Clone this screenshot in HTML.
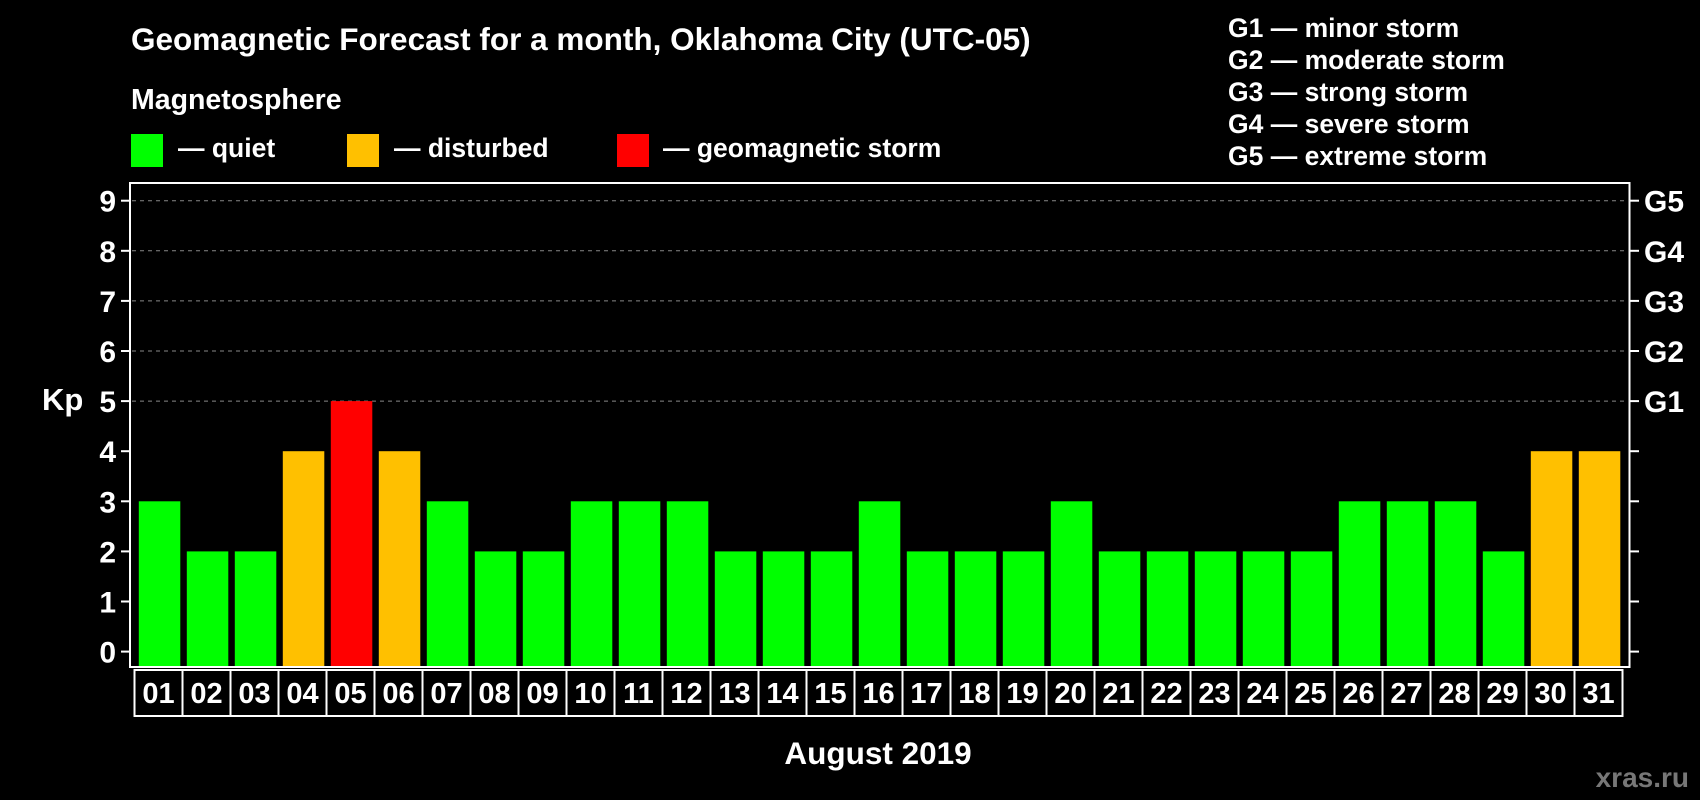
<!DOCTYPE html>
<html><head><meta charset="utf-8"><style>
html,body{margin:0;padding:0;background:#000;}
svg{display:block;font-family:"Liberation Sans",Arial,sans-serif;font-weight:bold;}
</style></head><body>
<svg id="chart" width="1700" height="800" viewBox="0 0 1700 800" xmlns="http://www.w3.org/2000/svg">
<rect width="1700" height="800" fill="#000"/>
<text x="131" y="50" fill="#fff" font-size="31.5">Geomagnetic Forecast for a month, Oklahoma City (UTC-05)</text>
<text x="131" y="109" fill="#fff" font-size="28.5">Magnetosphere</text>
<g><rect x="131" y="134" width="32" height="33" fill="#00ff00"/><text x="178" y="157" fill="#fff" font-size="26.5">— quiet</text></g>
<g><rect x="347" y="134" width="32" height="33" fill="#ffc000"/><text x="394" y="157" fill="#fff" font-size="26.5">— disturbed</text></g>
<g><rect x="617" y="134" width="32" height="33" fill="#ff0000"/><text x="663" y="157" fill="#fff" font-size="26.5">— geomagnetic storm</text></g>
<g fill="#fff" font-size="26.5">
<text x="1228" y="37">G1 — minor storm</text>
<text x="1228" y="69">G2 — moderate storm</text>
<text x="1228" y="101">G3 — strong storm</text>
<text x="1228" y="133">G4 — severe storm</text>
<text x="1228" y="165">G5 — extreme storm</text>
</g>
<text x="42" y="410" fill="#fff" font-size="31">Kp</text>
<text x="878" y="764" fill="#fff" font-size="31.5" text-anchor="middle">August 2019</text>
<text x="1689" y="787" fill="#777" font-size="28" text-anchor="end">xras.ru</text>
<g id="grid"></g><g id="bars"></g><g id="axes"></g>
</svg>
<script>
const days=["01","02","03","04","05","06","07","08","09","10","11","12","13","14","15","16","17","18","19","20","21","22","23","24","25","26","27","28","29","30","31"];
const kpValues=[3,2,2,4,5,4,3,2,2,3,3,3,2,2,2,3,2,2,2,3,2,2,2,2,2,3,3,3,2,4,4];
const yTicks=[0,1,2,3,4,5,6,7,8,9];
const gLabels=["G1","G2","G3","G4","G5"];
const NS="http://www.w3.org/2000/svg";
const X0=138.8,PITCH=48,BW=41.5,Y0=651.6,UNIT=50.1,BOTTOM=667;
function y(v){return Y0-v*UNIT;}
function x(i){return X0+i*PITCH;}
function color(v){return v>=5?"#ff0000":v>=4?"#ffc000":"#00ff00";}
function mk(t,a,p){const e=document.createElementNS(NS,t);for(const k in a)e.setAttribute(k,a[k]);p.appendChild(e);return e;}
const grid=document.getElementById("grid"),bars=document.getElementById("bars"),axes=document.getElementById("axes");
for(let v=5;v<=9;v++){
 const l=mk("line",{x1:132,x2:1628,y1:y(v),y2:y(v),stroke:"#888","stroke-width":1,"stroke-dasharray":"4,4"},grid);
 
 
}
kpValues.forEach((v,i)=>{
 const r=mk("rect",{x:x(i),y:y(v),width:BW,height:BOTTOM-y(v),fill:color(v)},bars);
 
 
});
const box=mk("rect",{x:130,y:183,width:1499.5,height:484,fill:"none",stroke:"#fff","stroke-width":2},axes);


yTicks.forEach(v=>{
 mk("line",{x1:121,x2:130,y1:y(v),y2:y(v),stroke:"#fff","stroke-width":2},axes);
 mk("line",{x1:1630,x2:1639,y1:y(v),y2:y(v),stroke:"#fff","stroke-width":2},axes);
 const t=mk("text",{x:116,y:y(v)+11,fill:"#fff","font-size":30,"text-anchor":"end"},axes);
 t.textContent=v;
 
 
});
gLabels.forEach((g,i)=>{
 const t=mk("text",{x:1644,y:y(i+5)+11,fill:"#fff","font-size":30},axes);
 t.textContent=g;
 
 
});
days.forEach((d,i)=>{
 const c=mk("rect",{x:134.5+i*PITCH,y:670,width:PITCH,height:46,fill:"none",stroke:"#fff","stroke-width":2},axes);
 
 
 const t=mk("text",{x:134.5+i*PITCH+PITCH/2,y:703,fill:"#fff","font-size":29,"text-anchor":"middle"},axes);
 t.textContent=d;
 
 
});
</script>
</body></html>
